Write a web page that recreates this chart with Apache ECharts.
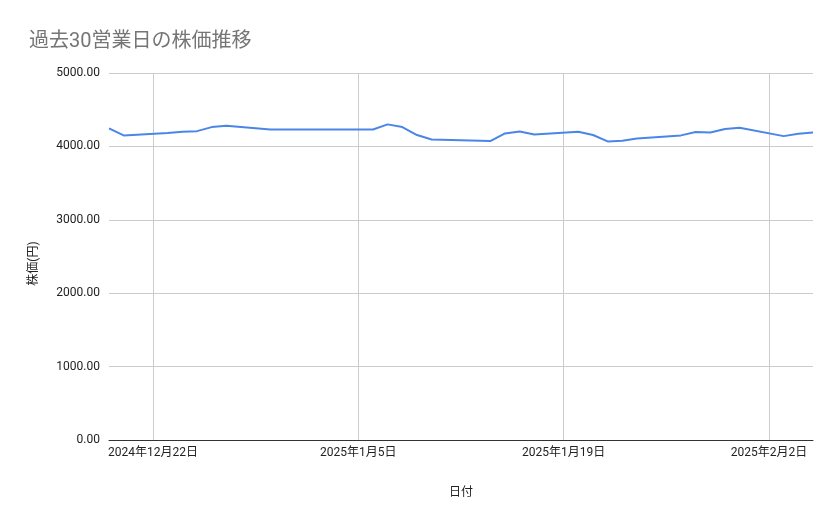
<!DOCTYPE html>
<html>
<head>
<meta charset="utf-8">
<script src="https://cdn.jsdelivr.net/npm/echarts@6/dist/echarts.min.js"></script>
<style>
  html, body { margin: 0; padding: 0; background: #fff; }
  #main { width: 839px; height: 519px; }
</style>
</head>
<body>
<div id="main"></div>
<script>
// 営業日（日付）
const dates = [
  '2024-12-19', '2024-12-20', '2024-12-23', '2024-12-24', '2024-12-25',
  '2024-12-26', '2024-12-27', '2024-12-30', '2025-01-06', '2025-01-07',
  '2025-01-08', '2025-01-09', '2025-01-10', '2025-01-14', '2025-01-15',
  '2025-01-16', '2025-01-17', '2025-01-20', '2025-01-21', '2025-01-22',
  '2025-01-23', '2025-01-24', '2025-01-27', '2025-01-28', '2025-01-29',
  '2025-01-30', '2025-01-31', '2025-02-03', '2025-02-04', '2025-02-05'
];
// 株価（円）
const prices = [
  4245, 4150, 4182, 4200, 4208,
  4263, 4281, 4231, 4231, 4300,
  4263, 4155, 4095, 4072, 4177,
  4204, 4163, 4200, 4155, 4068,
  4077, 4109, 4150, 4195, 4190,
  4236, 4254, 4140, 4172, 4190
];
// 目盛り
const tickDates = ['2024-12-22', '2025-01-05', '2025-01-19', '2025-02-02'];

const ts = d => {
  const [y, m, day] = d.split('-').map(Number);
  return new Date(y, m - 1, day).getTime();
};

const chart = echarts.init(document.getElementById('main'));
const font = 'Roboto, "Noto Sans CJK JP", sans-serif';

const option = {
  animation: false,
  textStyle: { fontFamily: font },
  title: {
    text: '過去30営業日の株価推移',
    left: 24,
    top: 27,
    textStyle: { fontSize: 20, fontWeight: 'normal', color: '#757575', fontFamily: font }
  },
  grid: { left: 109, right: 26, top: 73, bottom: 79 },
  xAxis: {
    type: 'value',
    min: ts(dates[0]),
    max: ts(dates[dates.length - 1]),
    name: '日付',
    nameLocation: 'middle',
    nameGap: 47,
    nameTextStyle: { fontSize: 12, color: '#222' },
    axisLine: { show: true, lineStyle: { color: '#333', width: 1 } },
    axisTick: { show: false, customValues: tickDates.map(ts) },
    axisLabel: {
      customValues: tickDates.map(ts),
      color: '#222',
      fontSize: 12,
      margin: 7,
      formatter: v => {
        const d = new Date(v);
        return d.getFullYear() + '年' + (d.getMonth() + 1) + '月' + d.getDate() + '日';
      }
    },
    splitLine: { show: true, lineStyle: { color: '#cccccc', width: 1 } }
  },
  yAxis: {
    type: 'value',
    min: 0,
    max: 5000,
    interval: 1000,
    name: '株価(円)',
    nameLocation: 'middle',
    nameGap: 69,
    nameRotate: 90,
    nameTextStyle: { fontSize: 12, color: '#222', padding: [0, 14, 0, 0] },
    axisLine: { show: false },
    axisTick: { show: false },
    axisLabel: { color: '#222', fontSize: 12, margin: 9, formatter: v => v.toFixed(2) },
    splitLine: { lineStyle: { color: '#cccccc', width: 1 } }
  },
  series: [{
    type: 'line',
    data: dates.map((d, i) => [ts(d), prices[i]]),
    showSymbol: false,
    lineStyle: { color: '#4a86e8', width: 2 },
    itemStyle: { color: '#4a86e8' }
  }]
};
chart.setOption(option);
</script>
</body>
</html>
